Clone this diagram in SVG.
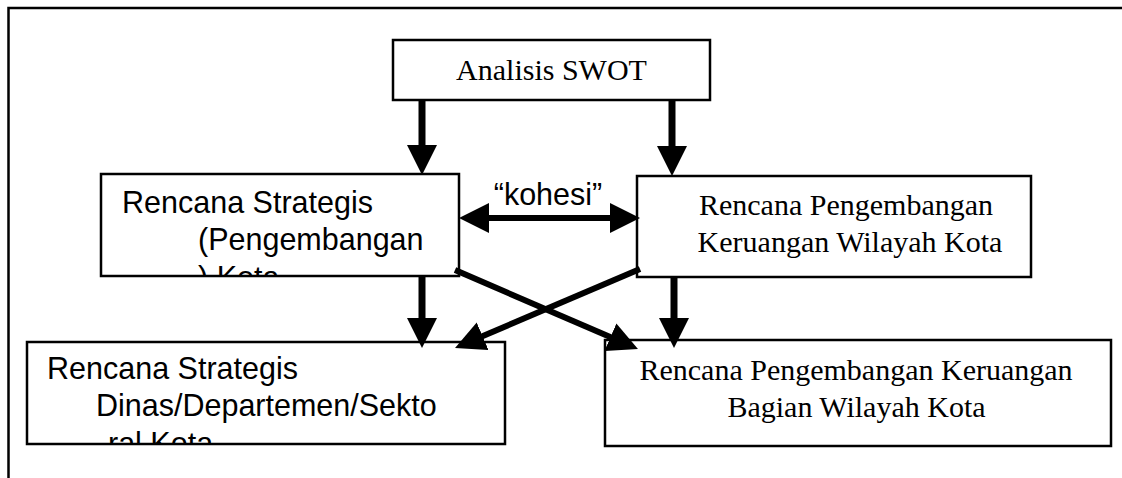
<svg xmlns="http://www.w3.org/2000/svg" width="1122" height="478" viewBox="0 0 1122 478">
  <style>
    .box { fill: #ffffff; stroke: #000000; stroke-width: 2.5; }
    .frame { fill: none; stroke: #000000; stroke-width: 2.5; }
    .serif { font-family: "Liberation Serif", "Times New Roman", serif; font-size: 30px; fill: #000000; }
    .sans { font-family: "Liberation Sans", Arial, sans-serif; font-size: 30.5px; fill: #000000; }
    .mid { text-anchor: middle; }
    .arrow { fill: none; stroke: #000000; stroke-width: 7; marker-end: url(#head); }
    .thin { stroke-width: 6; }
  </style>
  <defs>
    <marker id="head" markerUnits="userSpaceOnUse" markerWidth="30" markerHeight="30" refX="15" refY="15" orient="auto-start-reverse" viewBox="0 0 30 30">
      <path d="M0,0 L30,15 L0,30 Z" fill="#000000"/>
    </marker>
    <clipPath id="clip-renstra">
      <rect x="102" y="175" width="356" height="100"/>
    </clipPath>
    <clipPath id="clip-dinas">
      <rect x="28" y="343" width="476" height="100"/>
    </clipPath>
  </defs>

  <rect width="1122" height="478" fill="#ffffff"/>

  <!-- page frame -->
  <path class="frame" d="M8.5,478 L8.5,8 L1122,8"/>

  <g id="swot">
    <rect class="box" x="393" y="40" width="317" height="60"/>
    <text class="serif mid" x="551.5" y="80">Analisis SWOT</text>
  </g>

  <g id="renstra-kota">
    <rect class="box" x="101" y="174" width="358" height="102"/>
    <g clip-path="url(#clip-renstra)">
      <text class="sans" x="122" y="213">Rencana Strategis</text>
      <text class="sans" x="198" y="250">(Pengembangan</text>
      <text class="sans" x="198" y="288">) Kota</text>
    </g>
  </g>

  <g id="rpk-wilayah-kota">
    <rect class="box" x="637" y="176" width="394" height="101"/>
    <text class="serif mid" x="846" y="215">Rencana Pengembangan</text>
    <text class="serif mid" x="850" y="252">Keruangan Wilayah Kota</text>
  </g>

  <g id="renstra-dinas">
    <rect class="box" x="27" y="342" width="478" height="102"/>
    <g clip-path="url(#clip-dinas)">
      <text class="sans" x="47" y="379">Rencana Strategis</text>
      <text class="sans" x="96" y="416">Dinas/Departemen/Sekto</text>
      <text class="sans" x="108" y="454">ral Kota</text>
    </g>
  </g>

  <g id="rpk-bagian-wilayah">
    <rect class="box" x="605" y="340" width="506" height="106"/>
    <text class="serif mid" x="856" y="380">Rencana Pengembangan Keruangan</text>
    <text class="serif mid" x="856.5" y="417">Bagian Wilayah Kota</text>
  </g>

  <g id="connectors">
    <path class="arrow" d="M422,100 L422,160"/>
    <path class="arrow" d="M672,100 L672,161"/>
    <path class="arrow" d="M422,276 L422,333"/>
    <path class="arrow" d="M674,277 L674,333"/>
    <path class="arrow thin" d="M455,270 L624.2,343.1"/>
    <path class="arrow thin" d="M640,269 L468.8,342.1"/>
    <path class="arrow thin" style="marker-start:url(#head)" d="M474,218 L625,218"/>
    <text class="sans mid" x="548" y="205">“kohesi”</text>
  </g>
</svg>
